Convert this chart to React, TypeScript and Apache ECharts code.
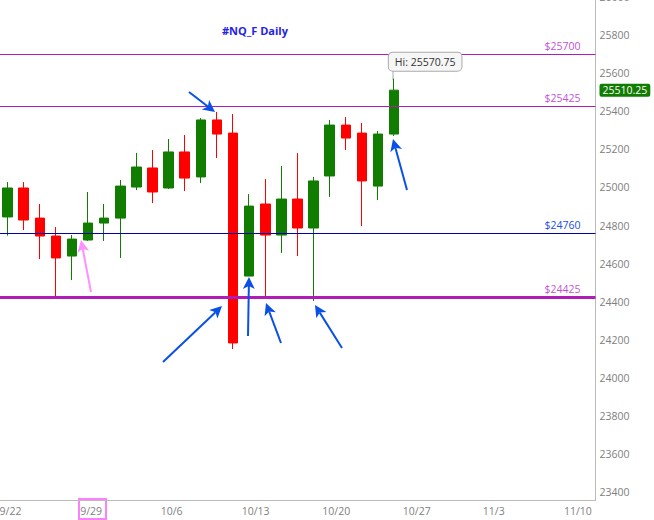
import React, { useEffect, useRef } from 'react'
import * as echarts from 'echarts'

const FONT = '"Open Sans", sans-serif'
const TEXT_SIZE = 10.5

const dates = [
	'9/22', '9/23', '9/24', '9/25', '9/26',
	'9/29', '9/30', '10/1', '10/2', '10/3',
	'10/6', '10/7', '10/8', '10/9', '10/10',
	'10/13', '10/14', '10/15', '10/16', '10/17',
	'10/20', '10/21', '10/22', '10/23', '10/24',
	'10/27', '10/28', '10/29', '10/30', '10/31',
	'11/3', '11/4', '11/5', '11/6', '11/7',
	'11/10', '11/11',
]

const opens = [24845, 24997, 24839, 24745, 24640, 24724, 24813, 24839, 25002, 25102, 24997, 25186, 25055, 25354, 25285, 24535, 24913, 24750, 24939, 24787, 25060, 25327, 25285, 25007, 25280]
const closes = [24997, 24829, 24745, 24630, 24729, 24813, 24839, 25007, 25107, 24976, 25186, 25049, 25354, 25280, 24184, 24902, 24750, 24939, 24787, 25034, 25327, 25259, 25034, 25280, 25510.25]
const lows = [24747, 24776, 24624, 24430, 24514, 24719, 24719, 24630, 24986, 24918, 24992, 24981, 25023, 25154, 24152, 24535, 24430, 24656, 24640, 24404, 24950, 25196, 24797, 24934, 25270]
const highs = [25028, 25028, 24913, 24792, 24750, 24976, 24913, 25039, 25181, 25196, 25254, 25275, 25364, 25396, 25385, 24965, 25044, 25112, 25180, 25055, 25354, 25369, 25338, 25296, 25570.75]

const yTicks = [23400, 23600, 23800, 24000, 24200, 24400, 24600, 24800, 25000, 25200, 25400, 25600, 25800, 26000]
const lastPrice = 25510.25
const highPrice = 25570.75

const thinLevels = [25700, 25425]
const thickLevel = 24425
const blueLevel = 24760

// annotaciones dibujadas a mano: [xCola, yCola, xPunta, yPunta]
const blueArrows = [
	[189, 92, 215, 112],
	[163, 362, 222, 306],
	[248, 336, 249, 277],
	[281, 343, 266, 303],
	[342, 348, 315, 305],
	[407, 190, 393, 139],
]
const pinkArrows = [[91, 292, 81, 240]]

const GREEN = '#107c00'
const RED = '#ff0000'
const PURPLE = '#b01cb8'
const LABEL_PURPLE = '#c452d6'
const GRAY = '#808080'
const AXIS_MIN = 23360
const AXIS_MAX = 26014.8

const arrow = (a: number[], color: string) => {
	const [x0, y0, x1, y1] = a
	const len = Math.hypot(x1 - x0, y1 - y0)
	const ux = (x1 - x0) / len
	const uy = (y1 - y0) / len
	const backX = x1 - ux * 12
	const backY = y1 - uy * 12
	const neckX = x1 - ux * 9
	const neckY = y1 - uy * 9
	return [
		{
			type: 'line',
			shape: { x1: x0, y1: y0, x2: neckX, y2: neckY },
			style: { stroke: color, lineWidth: 2 },
			z: 20,
		},
		{
			type: 'polygon',
			shape: {
				points: [
					[x1, y1],
					[backX - uy * 6, backY + ux * 6],
					[neckX, neckY],
					[backX + uy * 6, backY - ux * 6],
				],
			},
			style: { fill: color },
			z: 20,
		},
	]
}

const levelLine = (value: number, color: string, width: number, label: string, labelColor: string) => ({
	yAxis: value,
	lineStyle: { color, width, type: 'solid', opacity: 1 },
	label: {
		show: true,
		formatter: label,
		position: 'insideEndTop',
		distance: [15, 3],
		color: labelColor,
		fontFamily: FONT,
		fontSize: TEXT_SIZE,
	},
})

const App = () => {
	const chartRef = useRef<HTMLDivElement>(null)

	useEffect(() => {
		const chartInstance = echarts.init(chartRef.current, null, { renderer: 'svg' })

		chartInstance.setOption({
			animation: false,
			backgroundColor: '#ffffff',
			title: {
				text: '#NQ_F Daily',
				left: 222,
				top: 25,
				textStyle: { color: '#2222e6', fontFamily: FONT, fontSize: 11, fontWeight: 'bold' },
				padding: 0,
			},
			grid: { left: -0.5, width: 596, top: -6, bottom: 20, outerBoundsMode: 'none' },
			xAxis: {
				type: 'category',
				data: dates,
				boundaryGap: true,
				axisTick: { show: false },
				axisLine: { lineStyle: { color: '#bbbbbb' } },
				axisLabel: {
					interval: (i: number) => i % 5 === 0,
					formatter: (v: string) => (v.length > 4 ? `{w|${v}}` : `{s|${v}}`),
					color: GRAY,
					fontFamily: FONT,
					fontSize: TEXT_SIZE,
					margin: 5,
					rich: {
						s: { color: GRAY, fontFamily: FONT, fontSize: TEXT_SIZE, padding: [0, 0, 0, 6] },
						w: { color: GRAY, fontFamily: FONT, fontSize: TEXT_SIZE, padding: [0, 0, 0, 13] },
					},
				},
				splitLine: { show: false },
			},
			yAxis: [
				{
					type: 'value',
					position: 'right',
					min: AXIS_MIN,
					max: AXIS_MAX,
					axisLine: { show: true, lineStyle: { color: '#bbbbbb' } },
					axisTick: { show: false },
					splitLine: { show: false },
					axisLabel: {
						customValues: yTicks,
						formatter: (v: number) => String(v),
						color: GRAY,
						fontFamily: FONT,
						fontSize: TEXT_SIZE,
						margin: 4,
						padding: [3, 0, 0, 0],
					},
				},
				{
					type: 'value',
					position: 'right',
					min: AXIS_MIN,
					max: AXIS_MAX,
					axisLine: { show: false },
					axisTick: { show: false },
					splitLine: { show: false },
					axisLabel: {
						customValues: [lastPrice],
						formatter: (v: number) => v.toFixed(2),
						color: '#ffffff',
						backgroundColor: GREEN,
						borderRadius: 2,
						padding: [1, 3, 1, 3],
						fontFamily: FONT,
						fontSize: TEXT_SIZE,
						margin: 4,
					},
				},
			],
			series: [
				{
					type: 'candlestick',
					barWidth: 10,
					data: opens.map((o, i) => [o, closes[i], lows[i], highs[i]]),
					itemStyle: { color: GREEN, color0: RED, borderColor: GREEN, borderColor0: RED, borderWidth: 1 },
					markLine: {
						silent: true,
						symbol: 'none',
						precision: 2,
						data: [
							...thinLevels.map((v) => levelLine(v, PURPLE, 1, `$${v}`, LABEL_PURPLE)),
							levelLine(blueLevel, '#0000b4', 1, `$${blueLevel}`, '#2050e0'),
							levelLine(thickLevel, PURPLE, 3, `$${thickLevel}`, LABEL_PURPLE),
						],
					},
					markPoint: {
						silent: true,
						symbol: 'circle',
						symbolSize: 1,
						itemStyle: { color: 'transparent' },
						data: [
							{
								coord: [24, highPrice],
								label: {
									show: true,
									formatter: `Hi: ${highPrice}`,
									offset: [31, -17],
									color: '#333333',
									backgroundColor: '#f6f6f6',
									borderColor: '#aaaaaa',
									borderWidth: 1,
									borderRadius: 4,
									padding: [4, 6, 3, 6],
									fontFamily: FONT,
									fontSize: TEXT_SIZE,
								},
							},
						],
					},
				},
			],
			graphic: [
				{
					type: 'line',
					shape: { x1: 393, y1: 71, x2: 393, y2: 80 },
					style: { stroke: '#aaaaaa', lineWidth: 1 },
				},
				{
					type: 'rect',
					shape: { x: 79, y: 499, width: 27, height: 20 },
					style: { fill: 'none', stroke: '#ff80ff', lineWidth: 2 },
				},
				...blueArrows.flatMap((a) => arrow(a, '#0a50e6')),
				...pinkArrows.flatMap((a) => arrow(a, '#ff90ff')),
			],
		})

		return () => {
			chartInstance.dispose()
		}
	}, [])

	return <div ref={chartRef} style={{ position: 'absolute', left: 0, top: 0, width: '654px', height: '520px' }} />
}

export default App
